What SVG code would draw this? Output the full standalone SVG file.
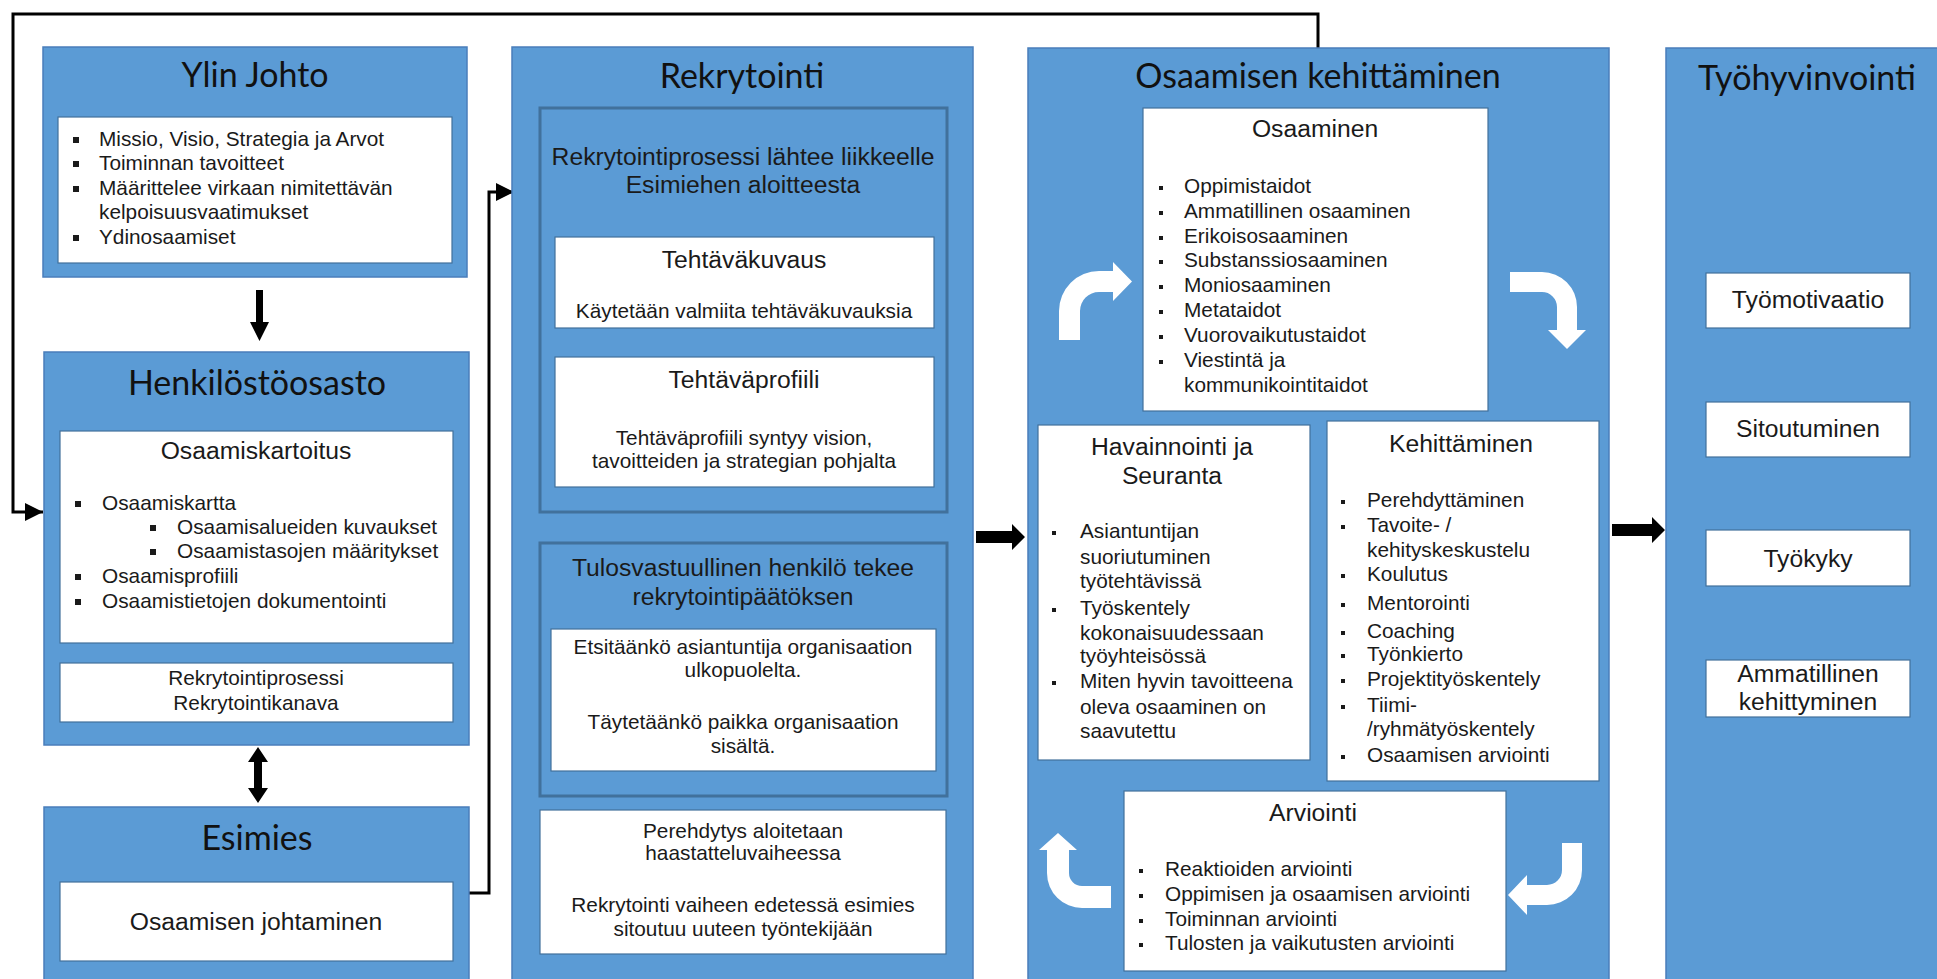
<svg xmlns="http://www.w3.org/2000/svg" width="1937" height="979" viewBox="0 0 1937 979">
<style>
.panel{fill:#5B9BD5;stroke:#4A7EBB;stroke-width:1.5}
.grp{fill:#5B9BD5;stroke:#41719C;stroke-width:3}
.box{fill:#FFFFFF;stroke:#41719C;stroke-width:1.2}
.h1{font-family:Lato,'Liberation Sans',sans-serif;font-size:34px;fill:#111111;text-anchor:middle}
.h2{font-family:'Liberation Sans',Arial,sans-serif;font-size:24.7px;fill:#1a1a1a;text-anchor:middle}
.t{font-family:'Liberation Sans',Arial,sans-serif;font-size:20.8px;fill:#1a1a1a}
.tc{font-family:'Liberation Sans',Arial,sans-serif;font-size:20.8px;fill:#1a1a1a;text-anchor:middle}
.bul{fill:#1a1a1a}
.line{fill:none;stroke:#000;stroke-width:3}
.blk{fill:#000}
.wa{fill:#FFFFFF}
</style>
<defs>
<marker id="ah" markerUnits="userSpaceOnUse" markerWidth="18" markerHeight="18" refX="18" refY="9" orient="auto">
<path d="M0,0 L18,9 L0,18 Z" fill="#000"/>
</marker>
</defs>

<g id="connectors">
<path class="line" d="M1318,48 V14 H13 V512 H43" marker-end="url(#ah)"/>
<path class="line" d="M469,893 H489 V192 H514" marker-end="url(#ah)"/>
<path class="blk" d="M256,290 H263 V322 H269 L259.5,341 L250,322 H256 Z"/>
<path class="blk" d="M258,747 L268,762 H262 V788 H268 L258,803 L248,788 H254 V762 H248 Z"/>
<path class="blk" d="M976,531 H1012 V524 L1025,537 L1012,550 V543 H976 Z"/>
<path class="blk" d="M1612,524 H1652 V517 L1665,530 L1652,543 V536 H1612 Z"/>
</g>

<g id="ylin-johto">
<rect class="panel" x="43" y="47" width="424" height="230"/>
<text class="h1" x="255" y="87">Ylin Johto</text>
<rect class="box" x="58" y="117" width="394" height="146"/>
<rect class="bul" x="73" y="137" width="6" height="6"/>
<rect class="bul" x="73" y="161" width="6" height="6"/>
<rect class="bul" x="73" y="186" width="6" height="6"/>
<rect class="bul" x="73" y="235" width="6" height="6"/>
<text class="t" x="99" y="146">Missio, Visio, Strategia ja Arvot</text>
<text class="t" x="99" y="170">Toiminnan tavoitteet</text>
<text class="t" x="99" y="195">Määrittelee virkaan nimitettävän</text>
<text class="t" x="99" y="219">kelpoisuusvaatimukset</text>
<text class="t" x="99" y="244">Ydinosaamiset</text>
</g>

<g id="henkilostoosasto">
<rect class="panel" x="44" y="352" width="425" height="393"/>
<text class="h1" x="257" y="395">Henkilöstöosasto</text>
<rect class="box" x="60" y="431" width="393" height="212"/>
<text class="h2" x="256" y="459">Osaamiskartoitus</text>
<rect class="bul" x="75" y="501" width="6" height="6"/>
<rect class="bul" x="150" y="525" width="6" height="6"/>
<rect class="bul" x="150" y="549" width="6" height="6"/>
<rect class="bul" x="75" y="574" width="6" height="6"/>
<rect class="bul" x="75" y="599" width="6" height="6"/>
<text class="t" x="102" y="510">Osaamiskartta</text>
<text class="t" x="177" y="534">Osaamisalueiden kuvaukset</text>
<text class="t" x="177" y="558">Osaamistasojen määritykset</text>
<text class="t" x="102" y="583">Osaamisprofiili</text>
<text class="t" x="102" y="608">Osaamistietojen dokumentointi</text>
<rect class="box" x="60" y="663" width="393" height="59"/>
<text class="tc" x="256" y="685">Rekrytointiprosessi</text>
<text class="tc" x="256" y="710">Rekrytointikanava</text>
</g>

<g id="esimies">
<rect class="panel" x="44" y="807" width="425" height="185"/>
<text class="h1" x="257" y="850">Esimies</text>
<rect class="box" x="60" y="882" width="393" height="79"/>
<text class="h2" x="256" y="930">Osaamisen johtaminen</text>
</g>

<g id="rekrytointi">
<rect class="panel" x="512" y="47" width="461" height="945"/>
<text class="h1" x="742" y="88">Rekrytointi</text>
<rect class="grp" x="540" y="108" width="407" height="404"/>
<text class="h2" x="743" y="165">Rekrytointiprosessi lähtee liikkeelle</text>
<text class="h2" x="743" y="193">Esimiehen aloitteesta</text>
<rect class="box" x="555" y="237" width="379" height="91"/>
<text class="h2" x="744" y="268">Tehtäväkuvaus</text>
<text class="tc" x="744" y="318">Käytetään valmiita tehtäväkuvauksia</text>
<rect class="box" x="555" y="357" width="379" height="130"/>
<text class="h2" x="744" y="388">Tehtäväprofiili</text>
<text class="tc" x="744" y="445">Tehtäväprofiili syntyy vision,</text>
<text class="tc" x="744" y="468">tavoitteiden ja  strategian pohjalta</text>
<rect class="grp" x="540" y="543" width="407" height="253"/>
<text class="h2" x="743" y="576">Tulosvastuullinen henkilö tekee</text>
<text class="h2" x="743" y="605">rekrytointipäätöksen</text>
<rect class="box" x="551" y="629" width="385" height="142"/>
<text class="tc" x="743" y="654">Etsitäänkö asiantuntija organisaation</text>
<text class="tc" x="743" y="677">ulkopuolelta.</text>
<text class="tc" x="743" y="729">Täytetäänkö paikka organisaation</text>
<text class="tc" x="743" y="753">sisältä.</text>
<rect class="box" x="540" y="810" width="406" height="144"/>
<text class="tc" x="743" y="838">Perehdytys aloitetaan</text>
<text class="tc" x="743" y="860">haastatteluvaiheessa</text>
<text class="tc" x="743" y="912">Rekrytointi vaiheen edetessä esimies</text>
<text class="tc" x="743" y="936">sitoutuu uuteen työntekijään</text>
</g>

<g id="osaamisen-kehittaminen">
<rect class="panel" x="1028" y="48" width="581" height="945"/>
<text class="h1" x="1318" y="88">Osaamisen kehittäminen</text>
<path class="wa" d="M1059,340 V311 A40,40 0 0 1 1099,271 H1113 V262 L1132,281.5 L1113,301 V292 H1099 A19,19 0 0 0 1080,311 V340 Z"/>
<path class="wa" d="M1510,272 H1542 A35,35 0 0 1 1577,307 V330 H1586 L1567,349 L1548,330 H1557 V307 A15,15 0 0 0 1542,292 H1510 Z"/>
<path class="wa" d="M1111,908 H1082 A35,35 0 0 1 1047,873 V850 H1039 L1058,833 L1077,850 H1069 V873 A13,13 0 0 0 1082,886 H1111 Z"/>
<path class="wa" d="M1562,843 H1582 V870 A35,35 0 0 1 1547,905 H1527 V915 L1508,895 L1527,875 V885 H1547 A15,15 0 0 0 1562,870 Z"/>
</g>

<g id="osaaminen">
<rect class="box" x="1143" y="108" width="345" height="303"/>
<text class="h2" x="1315" y="137">Osaaminen</text>
<rect class="bul" x="1159" y="186" width="4" height="4"/>
<rect class="bul" x="1159" y="211" width="4" height="4"/>
<rect class="bul" x="1159" y="236" width="4" height="4"/>
<rect class="bul" x="1159" y="260" width="4" height="4"/>
<rect class="bul" x="1159" y="285" width="4" height="4"/>
<rect class="bul" x="1159" y="310" width="4" height="4"/>
<rect class="bul" x="1159" y="335" width="4" height="4"/>
<rect class="bul" x="1159" y="360" width="4" height="4"/>
<text class="t" x="1184" y="193">Oppimistaidot</text>
<text class="t" x="1184" y="218">Ammatillinen osaaminen</text>
<text class="t" x="1184" y="243">Erikoisosaaminen</text>
<text class="t" x="1184" y="267">Substanssiosaaminen</text>
<text class="t" x="1184" y="292">Moniosaaminen</text>
<text class="t" x="1184" y="317">Metataidot</text>
<text class="t" x="1184" y="342">Vuorovaikutustaidot</text>
<text class="t" x="1184" y="367">Viestintä ja</text>
<text class="t" x="1184" y="392">kommunikointitaidot</text>
</g>

<g id="havainnointi">
<rect class="box" x="1038" y="425" width="272" height="335"/>
<text class="h2" x="1172" y="455">Havainnointi ja</text>
<text class="h2" x="1172" y="484">Seuranta</text>
<rect class="bul" x="1052" y="531" width="4" height="4"/>
<rect class="bul" x="1052" y="608" width="4" height="4"/>
<rect class="bul" x="1052" y="681" width="4" height="4"/>
<text class="t" x="1080" y="538">Asiantuntijan</text>
<text class="t" x="1080" y="564">suoriutuminen</text>
<text class="t" x="1080" y="588">työtehtävissä</text>
<text class="t" x="1080" y="615">Työskentely</text>
<text class="t" x="1080" y="640">kokonaisuudessaan</text>
<text class="t" x="1080" y="663">työyhteisössä</text>
<text class="t" x="1080" y="688">Miten hyvin tavoitteena</text>
<text class="t" x="1080" y="714">oleva osaaminen on</text>
<text class="t" x="1080" y="738">saavutettu</text>
</g>

<g id="kehittaminen">
<rect class="box" x="1327" y="421" width="272" height="360"/>
<text class="h2" x="1461" y="452">Kehittäminen</text>
<rect class="bul" x="1341" y="500" width="4" height="4"/>
<rect class="bul" x="1341" y="525" width="4" height="4"/>
<rect class="bul" x="1341" y="574" width="4" height="4"/>
<rect class="bul" x="1341" y="603" width="4" height="4"/>
<rect class="bul" x="1341" y="631" width="4" height="4"/>
<rect class="bul" x="1341" y="654" width="4" height="4"/>
<rect class="bul" x="1341" y="679" width="4" height="4"/>
<rect class="bul" x="1341" y="705" width="4" height="4"/>
<rect class="bul" x="1341" y="755" width="4" height="4"/>
<text class="t" x="1367" y="507">Perehdyttäminen</text>
<text class="t" x="1367" y="532">Tavoite- /</text>
<text class="t" x="1367" y="557">kehityskeskustelu</text>
<text class="t" x="1367" y="581">Koulutus</text>
<text class="t" x="1367" y="610">Mentorointi</text>
<text class="t" x="1367" y="638">Coaching</text>
<text class="t" x="1367" y="661">Työnkierto</text>
<text class="t" x="1367" y="686">Projektityöskentely</text>
<text class="t" x="1367" y="712">Tiimi-</text>
<text class="t" x="1367" y="736">/ryhmätyöskentely</text>
<text class="t" x="1367" y="762">Osaamisen arviointi</text>
</g>

<g id="arviointi">
<rect class="box" x="1124" y="791" width="382" height="180"/>
<text class="h2" x="1313" y="821">Arviointi</text>
<rect class="bul" x="1139" y="869" width="4" height="4"/>
<rect class="bul" x="1139" y="894" width="4" height="4"/>
<rect class="bul" x="1139" y="919" width="4" height="4"/>
<rect class="bul" x="1139" y="943" width="4" height="4"/>
<text class="t" x="1165" y="876">Reaktioiden arviointi</text>
<text class="t" x="1165" y="901">Oppimisen ja osaamisen arviointi</text>
<text class="t" x="1165" y="926">Toiminnan arviointi</text>
<text class="t" x="1165" y="950">Tulosten ja vaikutusten arviointi</text>
</g>

<g id="tyohyvinvointi">
<rect class="panel" x="1666" y="48" width="290" height="945"/>
<text class="h1" x="1807" y="90">Työhyvinvointi</text>
<rect class="box" x="1706" y="273" width="204" height="55"/>
<text class="h2" x="1808" y="308">Työmotivaatio</text>
<rect class="box" x="1706" y="402" width="204" height="55"/>
<text class="h2" x="1808" y="437">Sitoutuminen</text>
<rect class="box" x="1706" y="530" width="204" height="56"/>
<text class="h2" x="1808" y="567">Työkyky</text>
<rect class="box" x="1706" y="660" width="204" height="57"/>
<text class="h2" x="1808" y="682">Ammatillinen</text>
<text class="h2" x="1808" y="710">kehittyminen</text>
</g>
</svg>
